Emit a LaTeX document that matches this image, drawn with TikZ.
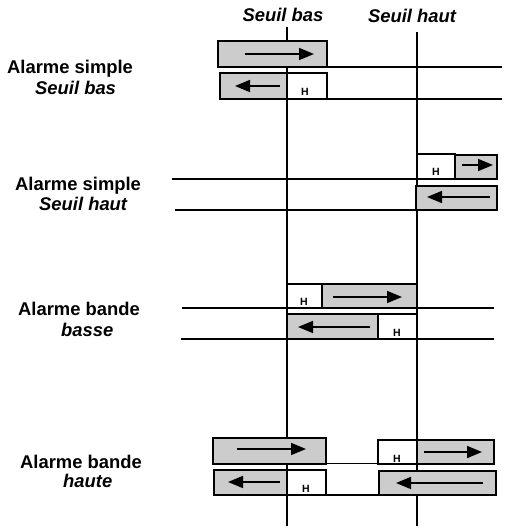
\documentclass[tikz,border=0pt]{standalone}
\usepackage{fontspec}
\setmainfont{Liberation Sans}
\usetikzlibrary{arrows.meta}
\definecolor{boxgray}{RGB}{204,204,204}
\tikzset{
  grayrect/.style={draw=black, line width=1.6pt, fill=boxgray},
  whiterect/.style={draw=black, line width=1.6pt, fill=white},
  hline/.style={line width=1.4pt},
  vline/.style={line width=1.4pt},
  flowarrow/.style={line width=1.6pt, -{Triangle[length=15pt,width=12pt]}},
  lbl/.style={inner sep=0pt, anchor=base west, font=\fontsize{18.4}{20}\selectfont\bfseries},
  lbli/.style={inner sep=0pt, anchor=base west, font=\fontsize{18.4}{20}\selectfont\bfseries\itshape},
  toplbl/.style={inner sep=0pt, anchor=base, font=\fontsize{18.4}{20}\selectfont\bfseries\itshape},
  hlbl/.style={inner sep=0pt, anchor=base, font=\fontsize{10.5}{11}\selectfont\bfseries}
}
\begin{document}
\begin{tikzpicture}[x=1pt,y=-1pt]
\useasboundingbox (0,0) rectangle (515,530);
% labels on top
\node[toplbl] (tb) at (283,21) {Seuil bas};
\node[toplbl] (th) at (412,22) {Seuil haut};
% vertical threshold lines
\coordinate (b1) at (287,27); \coordinate (b2) at (287,526);
\coordinate (h1) at (417,32); \coordinate (h2) at (417,526);
\draw[vline] (b1) -- (b2);
\draw[vline] (h1) -- (h2);
% left labels
\node[lbl] (l1a) at (7,73) {Alarme simple};
\node[lbli] (l1b) at (35,94) {Seuil bas};
\node[lbl] (l2a) at (15,190) {Alarme simple};
\node[lbli] (l2b) at (39,210) {Seuil haut};
\node[lbl] (l3a) at (18,315) {Alarme bande};
\node[lbli] (l3b) at (61,336) {basse};
\node[lbl] (l4a) at (20,468) {Alarme bande};
\node[lbli] (l4b) at (63,487) {haute};

% ---- Section 1: simple, seuil bas
\draw[hline] (327,67) -- (502,67);
\draw[hline] (327,99) -- (502,99);
\draw[grayrect] (218,41) rectangle (327,67);
\draw[flowarrow] (245,54) -- (314,54);
\draw[grayrect] (220,73) rectangle (287,99);
\draw[whiterect] (287,73) rectangle (327,99);
\draw[flowarrow] (280,86) -- (235,86);
\node[hlbl] (H1) at (305,95) {H};

% ---- Section 2: simple, seuil haut
\draw[hline] (172,179) -- (417,179);
\draw[hline] (175,210) -- (416,210);
\draw[whiterect] (417,154) rectangle (455,179);
\draw[grayrect] (455,155) rectangle (497,179);
\draw[flowarrow] (462,165) -- (493,165);
\draw[grayrect] (416,186) rectangle (497,210);
\draw[flowarrow] (490,197) -- (427,197);
\node[hlbl] (H2) at (436,175) {H};

% ---- Section 3: bande basse
\draw[hline] (182,308) -- (494,308);
\draw[hline] (181,339) -- (494,339);
\draw[whiterect] (287,284) rectangle (322,308);
\draw[grayrect] (322,284) rectangle (417,308);
\draw[flowarrow] (333,297) -- (402,297);
\node[hlbl] (H3) at (304,305) {H};
\draw[grayrect] (287,314) rectangle (378,339);
\draw[whiterect] (378,314) rectangle (417,339);
\draw[flowarrow] (370,327) -- (298,327);
\node[hlbl] (H4) at (397,336) {H};

% ---- Section 4: bande haute
\draw[line width=1pt] (326,463) -- (378,463);
\draw[hline] (326,495) -- (379,495);
\draw[grayrect] (213,438) rectangle (326,464);
\draw[flowarrow] (237,449) -- (306,449);
\draw[whiterect] (378,440) rectangle (417,464);
\draw[grayrect] (417,440) rectangle (494,464);
\draw[flowarrow] (424,452) -- (482,452);
\node[hlbl] (H5) at (397,462) {H};
\draw[grayrect] (214,470) rectangle (287,495);
\draw[whiterect] (287,470) rectangle (326,495);
\draw[flowarrow] (280,482) -- (228,482);
\node[hlbl] (H6) at (306,492) {H};
\draw[grayrect] (379,471) rectangle (496,495);
\draw[flowarrow] (483,483) -- (396,483);
\end{tikzpicture}
\end{document}
